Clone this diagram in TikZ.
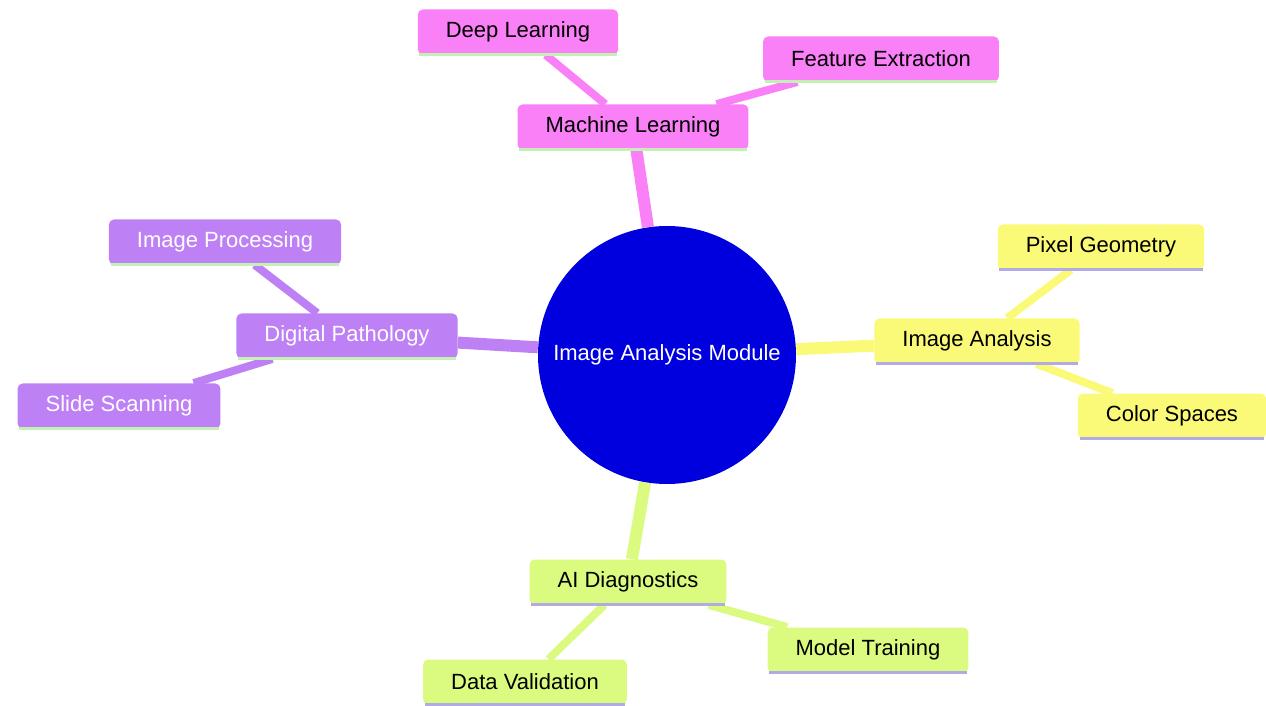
\documentclass[tikz,border=0pt]{standalone}
\usepackage{fontspec}
\setmainfont{Liberation Sans}
\usetikzlibrary{backgrounds}

\definecolor{mlpink}{RGB}{249,128,246}
\definecolor{dppurple}{RGB}{190,128,245}
\definecolor{iayellow}{RGB}{250,250,120}
\definecolor{aigreen}{RGB}{218,250,128}
\definecolor{rootblue}{RGB}{0,0,222}
\definecolor{mintline}{RGB}{196,240,180}
\definecolor{lavline}{RGB}{178,170,228}

\tikzset{
  box/.style={rectangle,rounded corners=2.5pt,minimum height=22.5pt,inner xsep=14pt,
    font=\fontsize{11}{13}\selectfont},
  trunk/.style={line width=6pt},
  twig/.style={line width=4pt},
}

\begin{document}
\begin{tikzpicture}[x=0.5pt,y=-0.5pt]
  \useasboundingbox (0,0) rectangle (1266,706);

  \node[circle,fill=rootblue,text=white,minimum size=129pt,inner sep=0pt,
        font=\fontsize{11}{13}\selectfont] (root) at (667,355) {Image Analysis Module};

  % machine learning
  \node[box,fill=mlpink] (ml) at (633,127) {Machine Learning};
  \node[box,fill=mlpink] (deep) at (518,32) {Deep Learning};
  \node[box,fill=mlpink] (feat) at (881,59) {Feature Extraction};

  % digital pathology
  \node[box,fill=dppurple,text=white] (dp) at (347,336) {Digital Pathology};
  \node[box,fill=dppurple,text=white] (proc) at (225,242) {Image Processing};
  \node[box,fill=dppurple,text=white] (scan) at (119,406) {Slide Scanning};

  % image analysis
  \node[box,fill=iayellow] (ia) at (977,341) {Image Analysis};
  \node[box,fill=iayellow] (pix) at (1101,247) {Pixel Geometry};
  \node[box,fill=iayellow] (col) at (1172,416) {Color Spaces};

  % ai diagnostics
  \node[box,fill=aigreen] (ai) at (628,582) {AI Diagnostics};
  \node[box,fill=aigreen] (val) at (525,682) {Data Validation};
  \node[box,fill=aigreen] (train) at (868,650) {Model Training};

  \foreach \n/\c in {ml/mintline,deep/mintline,feat/mintline,dp/mintline,proc/mintline,scan/mintline,
                     ia/lavline,pix/lavline,col/lavline,ai/lavline,val/lavline,train/lavline}
    \draw[\c,line width=1.5pt] ([xshift=1pt]\n.south west) -- ([xshift=-1pt]\n.south east);

  \begin{pgfonlayer}{background}
    \draw[trunk,mlpink] (root) -- (ml);
    \draw[twig,mlpink] (ml) -- (deep);
    \draw[twig,mlpink] (ml) -- (feat);
    \draw[trunk,dppurple] (root) -- (dp);
    \draw[twig,dppurple] (dp) -- (proc);
    \draw[twig,dppurple] (dp) -- (scan);
    \draw[trunk,iayellow] (root) -- (ia);
    \draw[twig,iayellow] (ia) -- (pix);
    \draw[twig,iayellow] (ia) -- (col);
    \draw[trunk,aigreen] (root) -- (ai);
    \draw[twig,aigreen] (ai) -- (val);
    \draw[twig,aigreen] (ai) -- (train);
  \end{pgfonlayer}
\end{tikzpicture}
\end{document}
